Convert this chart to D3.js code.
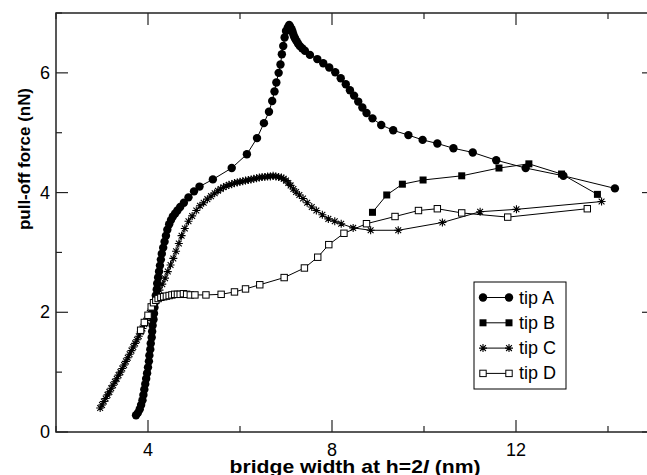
<!DOCTYPE html>
<html>
<head>
<meta charset="utf-8">
<script src="https://cdn.jsdelivr.net/npm/d3@7"></script>
<style>
  body { margin: 0; background: #fff; }
  svg { display: block; font-family: "Liberation Sans", Arial, sans-serif; }
</style>
</head>
<body>
<div id="chart"></div>
<script>
// pull-off force vs bridge width, four tips
var tipA = [
  [3.74,0.28],[3.78,0.32],[3.82,0.38],[3.85,0.45],[3.88,0.53],[3.90,0.62],[3.92,0.71],[3.94,0.80],
  [3.96,0.89],[3.98,0.98],[4.00,1.08],[4.02,1.18],[4.03,1.28],[4.05,1.38],[4.06,1.48],[4.08,1.58],
  [4.09,1.68],[4.10,1.78],[4.12,1.88],[4.13,1.98],[4.14,2.08],[4.16,2.18],[4.17,2.28],[4.19,2.38],
  [4.20,2.48],[4.22,2.58],[4.24,2.68],[4.26,2.78],[4.28,2.88],[4.30,2.98],[4.33,3.08],[4.36,3.18],
  [4.39,3.28],[4.42,3.38],[4.46,3.47],[4.50,3.54],[4.54,3.60],[4.59,3.65],[4.64,3.70],[4.70,3.76],
  [4.78,3.83],[4.88,3.92],[5.00,4.02],[5.12,4.10],[5.41,4.22],[5.82,4.41],[6.15,4.64],[6.37,4.91],
  [6.52,5.16],[6.63,5.35],[6.70,5.53],[6.75,5.69],[6.79,5.84],[6.84,6.00],[6.88,6.14],[6.91,6.31],
  [6.94,6.45],[6.97,6.59],[7.00,6.70],[7.04,6.76],[7.07,6.80],[7.09,6.77],[7.10,6.75],[7.12,6.73],
  [7.14,6.69],[7.16,6.64],[7.18,6.60],[7.20,6.57],[7.23,6.53],[7.26,6.49],[7.30,6.45],[7.35,6.41],
  [7.41,6.37],[7.52,6.30],[7.68,6.23],[7.81,6.16],[7.94,6.09],[8.07,6.01],[8.19,5.91],[8.30,5.81],
  [8.39,5.71],[8.48,5.62],[8.57,5.52],[8.66,5.42],[8.75,5.33],[8.88,5.24],[9.07,5.13],[9.33,5.04],
  [9.66,4.96],[9.97,4.88],[10.29,4.82],[10.64,4.74],[11.06,4.67],[11.57,4.54],[12.21,4.41],
  [13.03,4.28],[14.15,4.07]
];
var tipB = [
  [8.88,3.67],[9.19,3.96],[9.53,4.14],[9.98,4.21],[10.82,4.28],[11.63,4.41],[12.28,4.48],
  [12.99,4.31],[13.77,3.97]
];
var tipC = [
  [2.96,0.40],[3.00,0.45],[3.04,0.51],[3.08,0.56],[3.12,0.62],[3.16,0.67],[3.20,0.73],[3.24,0.78],
  [3.28,0.84],[3.32,0.89],[3.36,0.95],[3.40,1.00],[3.44,1.06],[3.48,1.12],[3.52,1.18],[3.56,1.24],
  [3.60,1.30],[3.64,1.36],[3.68,1.42],[3.72,1.48],[3.76,1.54],[3.80,1.60],[3.84,1.67],[3.88,1.73],
  [3.92,1.80],[3.96,1.86],[4.00,1.92],[4.04,1.99],[4.08,2.06],[4.12,2.13],[4.16,2.20],[4.20,2.28],
  [4.25,2.37],[4.31,2.47],[4.37,2.57],[4.43,2.68],[4.49,2.79],[4.55,2.90],[4.61,3.02],[4.67,3.15],
  [4.73,3.28],[4.80,3.40],[4.88,3.52],[4.96,3.61],[5.05,3.70],[5.13,3.78],[5.21,3.83],[5.29,3.89],
  [5.37,3.94],[5.45,3.99],[5.52,4.03],[5.58,4.06],[5.64,4.09],[5.70,4.11],[5.76,4.13],[5.82,4.14],
  [5.88,4.16],[5.94,4.17],[6.00,4.18],[6.06,4.19],[6.12,4.20],[6.18,4.21],[6.24,4.22],[6.30,4.23],
  [6.36,4.24],[6.42,4.25],[6.48,4.26],[6.54,4.26],[6.60,4.27],[6.66,4.27],[6.72,4.28],[6.78,4.27],
  [6.84,4.26],[6.90,4.25],[6.95,4.23],[7.00,4.20],[7.05,4.16],[7.10,4.12],[7.16,4.06],[7.22,4.01],
  [7.29,3.96],[7.37,3.90],[7.46,3.83],[7.56,3.76],[7.66,3.70],[7.79,3.63],[7.92,3.56],[8.06,3.52],
  [8.20,3.48],[8.46,3.41],[8.84,3.37],[9.44,3.37],[10.40,3.50],[11.22,3.68],[12.01,3.72],[13.86,3.85]
];
var tipD = [
  [3.84,1.70],[3.92,1.83],[4.00,1.95],[4.07,2.09],[4.12,2.16],[4.17,2.20],[4.22,2.23],[4.28,2.25],
  [4.34,2.26],[4.40,2.27],[4.46,2.28],[4.52,2.29],[4.58,2.30],[4.64,2.30],[4.70,2.30],[4.77,2.31],
  [4.84,2.30],[4.92,2.29],[5.02,2.29],[5.26,2.29],[5.59,2.30],[5.88,2.34],[6.12,2.39],[6.43,2.46],
  [6.96,2.58],[7.40,2.74],[7.69,2.92],[7.93,3.13],[8.26,3.32],[8.75,3.48],[9.37,3.60],[9.88,3.70],
  [10.29,3.73],[10.82,3.66],[11.82,3.59],[13.55,3.73]
];
var seriesNames = ['tip A', 'tip B', 'tip C', 'tip D'];
var xMajor = [4, 8, 12];
var xMinor = [2, 6, 10, 14];
var yMajor = [0, 2, 4, 6];
var yMinor = [1, 3, 5, 7];

var width = 647, height = 475;
var plotL = 56, plotR = 654, plotT = 13, plotB = 432;

var x = d3.scaleLinear().domain([2, 15]).range([plotL, plotR]);
var y = d3.scaleLinear().domain([0, 7]).range([plotB, plotT]);

var svg = d3.select('#chart').append('svg')
  .attr('width', width)
  .attr('height', height);

// frame
svg.append('rect')
  .attr('x', plotL).attr('y', plotT)
  .attr('width', plotR - plotL).attr('height', plotB - plotT)
  .attr('fill', 'none').attr('stroke', '#222').attr('stroke-width', 1.5);

var ticks = svg.append('g').attr('stroke', '#222').attr('stroke-width', 1.2);
xMajor.forEach(function(v) {
  ticks.append('line').attr('x1', x(v)).attr('x2', x(v)).attr('y1', plotB).attr('y2', plotB - 12);
  ticks.append('line').attr('x1', x(v)).attr('x2', x(v)).attr('y1', plotT).attr('y2', plotT + 12);
});
xMinor.forEach(function(v) {
  ticks.append('line').attr('x1', x(v)).attr('x2', x(v)).attr('y1', plotB).attr('y2', plotB - 6);
  ticks.append('line').attr('x1', x(v)).attr('x2', x(v)).attr('y1', plotT).attr('y2', plotT + 6);
});
yMajor.forEach(function(v) {
  ticks.append('line').attr('x1', plotL).attr('x2', plotL + 12).attr('y1', y(v)).attr('y2', y(v));
  ticks.append('line').attr('x1', plotR).attr('x2', plotR - 12).attr('y1', y(v)).attr('y2', y(v));
});
yMinor.forEach(function(v) {
  ticks.append('line').attr('x1', plotL).attr('x2', plotL + 6).attr('y1', y(v)).attr('y2', y(v));
  ticks.append('line').attr('x1', plotR).attr('x2', plotR - 6).attr('y1', y(v)).attr('y2', y(v));
});

// tick labels
svg.append('g').selectAll('text').data(xMajor).join('text')
  .attr('x', function(d) { return x(d); })
  .attr('y', 456)
  .attr('text-anchor', 'middle')
  .attr('font-size', 18)
  .text(function(d) { return d; });
svg.append('g').selectAll('text').data(yMajor).join('text')
  .attr('x', 50)
  .attr('y', function(d) { return y(d); })
  .attr('text-anchor', 'end')
  .attr('dominant-baseline', 'central')
  .attr('font-size', 18)
  .text(function(d) { return d; });

// axis titles
var xt = svg.append('text')
  .attr('x', 355).attr('y', 473)
  .attr('text-anchor', 'middle')
  .attr('font-size', 19).attr('font-weight', 'bold')
  .attr('textLength', 251).attr('lengthAdjust', 'spacingAndGlyphs');
xt.append('tspan').text('bridge width at h=2');
xt.append('tspan').attr('font-style', 'italic').text('l');
xt.append('tspan').text(' (nm)');

svg.append('text')
  .attr('transform', 'translate(30,159) rotate(-90)')
  .attr('text-anchor', 'middle')
  .attr('font-size', 17).attr('font-weight', 'bold')
  .attr('textLength', 142).attr('lengthAdjust', 'spacingAndGlyphs')
  .text('pull-off force (nN)');

// markers
function drawMarker(g, kind, cx, cy) {
  if (kind === 0) {
    g.append('circle').attr('cx', cx).attr('cy', cy).attr('r', 4.2).attr('fill', '#000');
  } else if (kind === 1) {
    g.append('rect').attr('x', cx - 3.5).attr('y', cy - 3.5).attr('width', 7).attr('height', 7).attr('fill', '#000');
  } else if (kind === 2) {
    var s = 4, d = 2.9;
    g.append('path')
      .attr('d', 'M' + (cx - s) + ',' + cy + 'H' + (cx + s) +
        'M' + cx + ',' + (cy - s) + 'V' + (cy + s) +
        'M' + (cx - d) + ',' + (cy - d) + 'L' + (cx + d) + ',' + (cy + d) +
        'M' + (cx - d) + ',' + (cy + d) + 'L' + (cx + d) + ',' + (cy - d))
      .attr('stroke', '#000').attr('stroke-width', 1.1).attr('fill', 'none');
  } else {
    g.append('rect').attr('x', cx - 3.2).attr('y', cy - 3.2).attr('width', 6.4).attr('height', 6.4)
      .attr('fill', '#fff').attr('stroke', '#000').attr('stroke-width', 1);
  }
}

var line = d3.line().x(function(d) { return x(d[0]); }).y(function(d) { return y(d[1]); });
var allSeries = [tipA, tipB, tipC, tipD];
var plot = svg.append('g');
allSeries.forEach(function(data, k) {
  var g = plot.append('g');
  g.append('path').attr('d', line(data)).attr('fill', 'none').attr('stroke', '#000').attr('stroke-width', 1);
  data.forEach(function(p) { drawMarker(g, k, x(p[0]), y(p[1])); });
});

// legend
var legend = svg.append('g');
legend.append('rect')
  .attr('x', 474).attr('y', 282).attr('width', 92).attr('height', 107)
  .attr('fill', '#fff').attr('stroke', '#000').attr('stroke-width', 1);
seriesNames.forEach(function(name, k) {
  var ly = 297.5 + k * 25.3;
  legend.append('line').attr('x1', 483).attr('x2', 509).attr('y1', ly).attr('y2', ly)
    .attr('stroke', '#000').attr('stroke-width', 1);
  drawMarker(legend, k, 483, ly);
  drawMarker(legend, k, 509, ly);
  legend.append('text')
    .attr('x', 519).attr('y', ly)
    .attr('dominant-baseline', 'central')
    .attr('font-size', 18)
    .text(name);
});
</script>
</body>
</html>
